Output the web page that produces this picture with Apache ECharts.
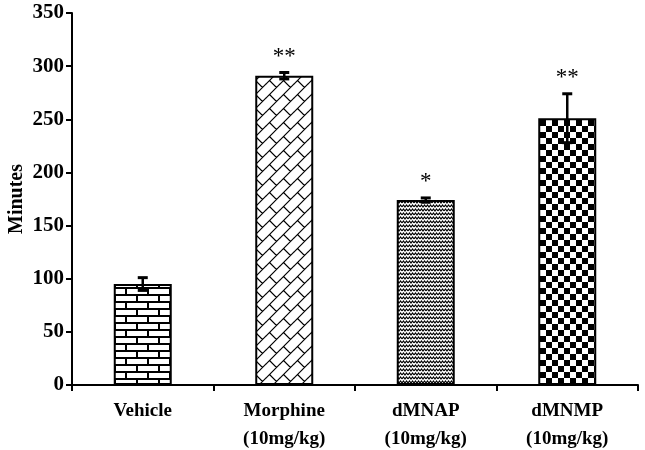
<!DOCTYPE html>
<html>
<head>
<meta charset="utf-8">
<script src="https://cdn.jsdelivr.net/npm/echarts@6/dist/echarts.min.js"></script>
<style>
  html, body { margin: 0; padding: 0; background: #fff; }
  #chart { width: 645px; height: 450px; }
</style>
</head>
<body>
<div id="chart"></div>
<script>
// data
var categories = ['Vehicle', 'Morphine\n(10mg/kg)', 'dMNAP\n(10mg/kg)', 'dMNMP\n(10mg/kg)'];
var means = [95, 291, 174, 251];
var errors = [6, 3, 2, 23];
var marks = ['', '**', '*', '**'];

// fill patterns
function tile(w, h, draw) {
    var c = document.createElement('canvas');
    c.width = w; c.height = h;
    var ctx = c.getContext('2d');
    ctx.fillStyle = '#fff';
    ctx.fillRect(0, 0, w, h);
    ctx.strokeStyle = '#000';
    ctx.fillStyle = '#000';
    draw(ctx, w, h);
    return { image: c, repeat: 'repeat' };
}

var brick = tile(22, 14, function (ctx, w, h) {
    ctx.lineWidth = 2;
    ctx.beginPath();
    ctx.moveTo(0, 1); ctx.lineTo(w, 1);
    ctx.moveTo(0, 8); ctx.lineTo(w, 8);
    ctx.moveTo(5, 1); ctx.lineTo(5, 8);
    ctx.moveTo(16, 8); ctx.lineTo(16, 14);
    ctx.stroke();
});

var weave = tile(14, 14, function (ctx, w, h) {
    ctx.lineWidth = 1.2;
    var offs = [-14, 0, 14];
    ctx.beginPath();
    offs.forEach(function (dx) {
        offs.forEach(function (dy) {
            ctx.moveTo(0 + dx, 14 + dy); ctx.lineTo(14 + dx, 0 + dy);
            ctx.moveTo(3.5 + dx, 10.5 + dy); ctx.lineTo(10.5 + dx, 17.5 + dy);
        });
    });
    ctx.stroke();
});

var zigzag = tile(6, 4, function (ctx, w, h) {
    ctx.lineWidth = 1.2;
    ctx.beginPath();
    ctx.moveTo(0, 3); ctx.lineTo(1.5, 1); ctx.lineTo(3, 3); ctx.lineTo(4.5, 1); ctx.lineTo(6, 3);
    ctx.stroke();
});

var checker = tile(12, 12, function (ctx) {
    ctx.fillRect(0, 0, 6, 6);
    ctx.fillRect(6, 6, 6, 6);
});

var fills = [brick, weave, zigzag, checker];

var font = '"Liberation Serif", "Times New Roman", serif';
var chart = echarts.init(document.getElementById('chart'));

chart.setOption({
    animation: false,
    backgroundColor: '#fff',
    grid: { left: 72, right: 7, top: 13, bottom: 65, containLabel: false, outerBoundsMode: 'none' },
    xAxis: {
        type: 'category',
        data: categories,
        axisLine: { lineStyle: { color: '#000', width: 2 } },
        axisTick: { show: true, length: 6, lineStyle: { color: '#000', width: 2 } },
        axisLabel: {
            color: '#000', fontFamily: font, fontWeight: 'bold', fontSize: 19,
            lineHeight: 28, margin: 12
        }
    },
    yAxis: {
        type: 'value',
        min: 0, max: 350, interval: 50,
        name: 'Minutes',
        nameLocation: 'middle',
        nameGap: 45,
        nameMoveOverlap: false,
        nameTextStyle: { color: '#000', fontFamily: font, fontWeight: 'bold', fontSize: 20 },
        splitLine: { show: false },
        axisLine: { show: true, lineStyle: { color: '#000', width: 2 } },
        axisTick: { show: true, length: 6, lineStyle: { color: '#000', width: 2 } },
        axisLabel: { color: '#000', fontFamily: font, fontWeight: 'bold', fontSize: 21, margin: 8 }
    },
    series: [
        {
            type: 'bar',
            barWidth: 58,
            data: means.map(function (v, i) {
                return {
                    value: v,
                    itemStyle: { color: fills[i], borderColor: '#000', borderWidth: 2 }
                };
            })
        },
        {
            type: 'custom',
            data: means.map(function (v, i) { return [i, v, errors[i]]; }),
            renderItem: function (params, api) {
                var i = api.value(0), v = api.value(1), e = api.value(2);
                var top = api.coord([i, v + e]);
                var bot = api.coord([i, v - e]);
                var x = top[0];
                var cap = 5;
                var star = marks[params.dataIndex];
                var kids = [
                    { type: 'line', shape: { x1: x, y1: top[1], x2: x, y2: bot[1] }, style: { stroke: '#000', lineWidth: 2.5 } },
                    { type: 'line', shape: { x1: x - cap, y1: top[1], x2: x + cap, y2: top[1] }, style: { stroke: '#000', lineWidth: 3 } },
                    { type: 'line', shape: { x1: x - cap, y1: bot[1], x2: x + cap, y2: bot[1] }, style: { stroke: '#000', lineWidth: 3 } }
                ];
                if (star) {
                    kids.push({
                        type: 'text',
                        x: x, y: top[1] - 4,
                        style: {
                            text: star, fill: '#000', font: '23px ' + font,
                            align: 'center', verticalAlign: 'bottom'
                        }
                    });
                }
                return { type: 'group', children: kids };
            },
            z: 5
        }
    ]
});
</script>
</body>
</html>
